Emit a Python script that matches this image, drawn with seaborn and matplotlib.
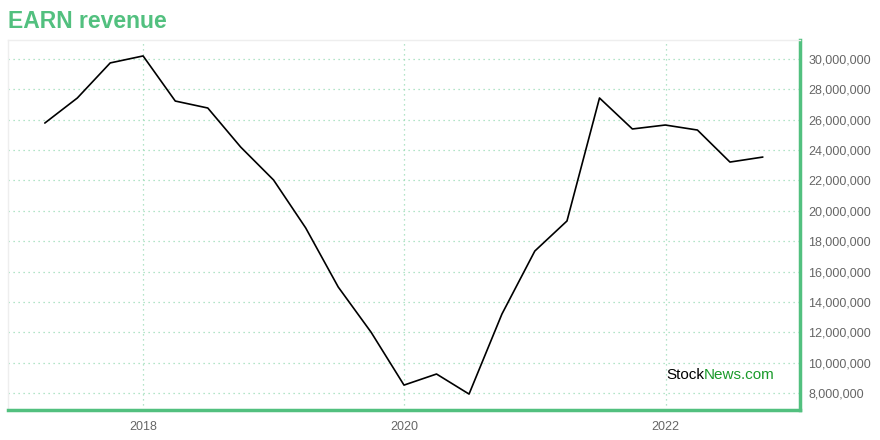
import pandas as pd
import matplotlib.pyplot as plt
import matplotlib.ticker as mticker
import seaborn as sns

# 四半期ごとの売上 (チャートから読み取り)
dates = ["2017-03-31", "2017-06-30", "2017-09-30", "2017-12-31",
         "2018-03-31", "2018-06-30", "2018-09-30", "2018-12-31",
         "2019-03-31", "2019-06-30", "2019-09-30", "2019-12-31",
         "2020-03-31", "2020-06-30", "2020-09-30", "2020-12-31",
         "2021-03-31", "2021-06-30", "2021-09-30", "2021-12-31",
         "2022-03-31", "2022-06-30", "2022-09-30"]
revenue = [25.78, 27.43, 29.74, 30.2,
           27.23, 26.77, 24.2, 22.03,
           18.87, 14.98, 12.0, 8.52,
           9.25, 7.93, 13.2, 17.35,
           19.33, 27.43, 25.39, 25.65,
           25.32, 23.21, 23.54]
year_ticks = ["2018-01-01", "2020-01-01", "2022-01-01"]
tick_labels = ["2018", "2020", "2022"]

df = pd.DataFrame({"date": pd.to_datetime(dates),
                   "revenue": [v * 1e6 for v in revenue]})

green = "#52c07f"
sns.set_style("white")
plt.rcParams["font.family"] = ["Liberation Sans", "DejaVu Sans"]

fig = plt.figure(figsize=(8.8, 4.4), dpi=100)
ax = fig.add_axes([8 / 880, 30 / 440, 792 / 880, 370 / 440])

sns.lineplot(data=df, x="date", y="revenue", color="black", linewidth=1.2, ax=ax)

ax.set_xlim(pd.Timestamp("2016-12-18"), pd.Timestamp("2023-01-12"))
ax.set_ylim(6.88e6, 31.25e6)

ax.set_xticks(pd.to_datetime(year_ticks))
ax.set_xticklabels(tick_labels)
ax.yaxis.set_major_locator(mticker.MultipleLocator(2e6))
ax.yaxis.set_major_formatter(mticker.FuncFormatter(lambda v, p: f"{int(v):,}"))
ax.yaxis.tick_right()

ax.tick_params(axis="both", length=0, labelsize=9, labelcolor="#666666")
ax.tick_params(axis="y", pad=6)
ax.tick_params(axis="x", pad=8)

ax.grid(True, color="#9adcb6", linestyle=(0, (1, 3)), linewidth=0.9)
ax.set_xlabel("")
ax.set_ylabel("")

for side in ["top", "left"]:
    ax.spines[side].set_color("#eeeeee")
    ax.spines[side].set_linewidth(1)
for side in ["right", "bottom"]:
    ax.spines[side].set_color(green)
    ax.spines[side].set_linewidth(2.5)

fig.text(8 / 880, 1 - 22 / 440, "EARN revenue", color=green, fontsize=16.5,
         fontweight="bold", va="center", ha="left")

# ウォーターマーク
t1 = ax.text(0.831, 0.095, "Stock", transform=ax.transAxes, fontsize=11,
             color="black", va="center", ha="left")
fig.canvas.draw()
bb = t1.get_window_extent().transformed(ax.transAxes.inverted())
ax.text(bb.x1, 0.095, "News.com", transform=ax.transAxes, fontsize=11,
        color="#1a9a2a", va="center", ha="left")

plt.savefig("out.png", dpi=100)
